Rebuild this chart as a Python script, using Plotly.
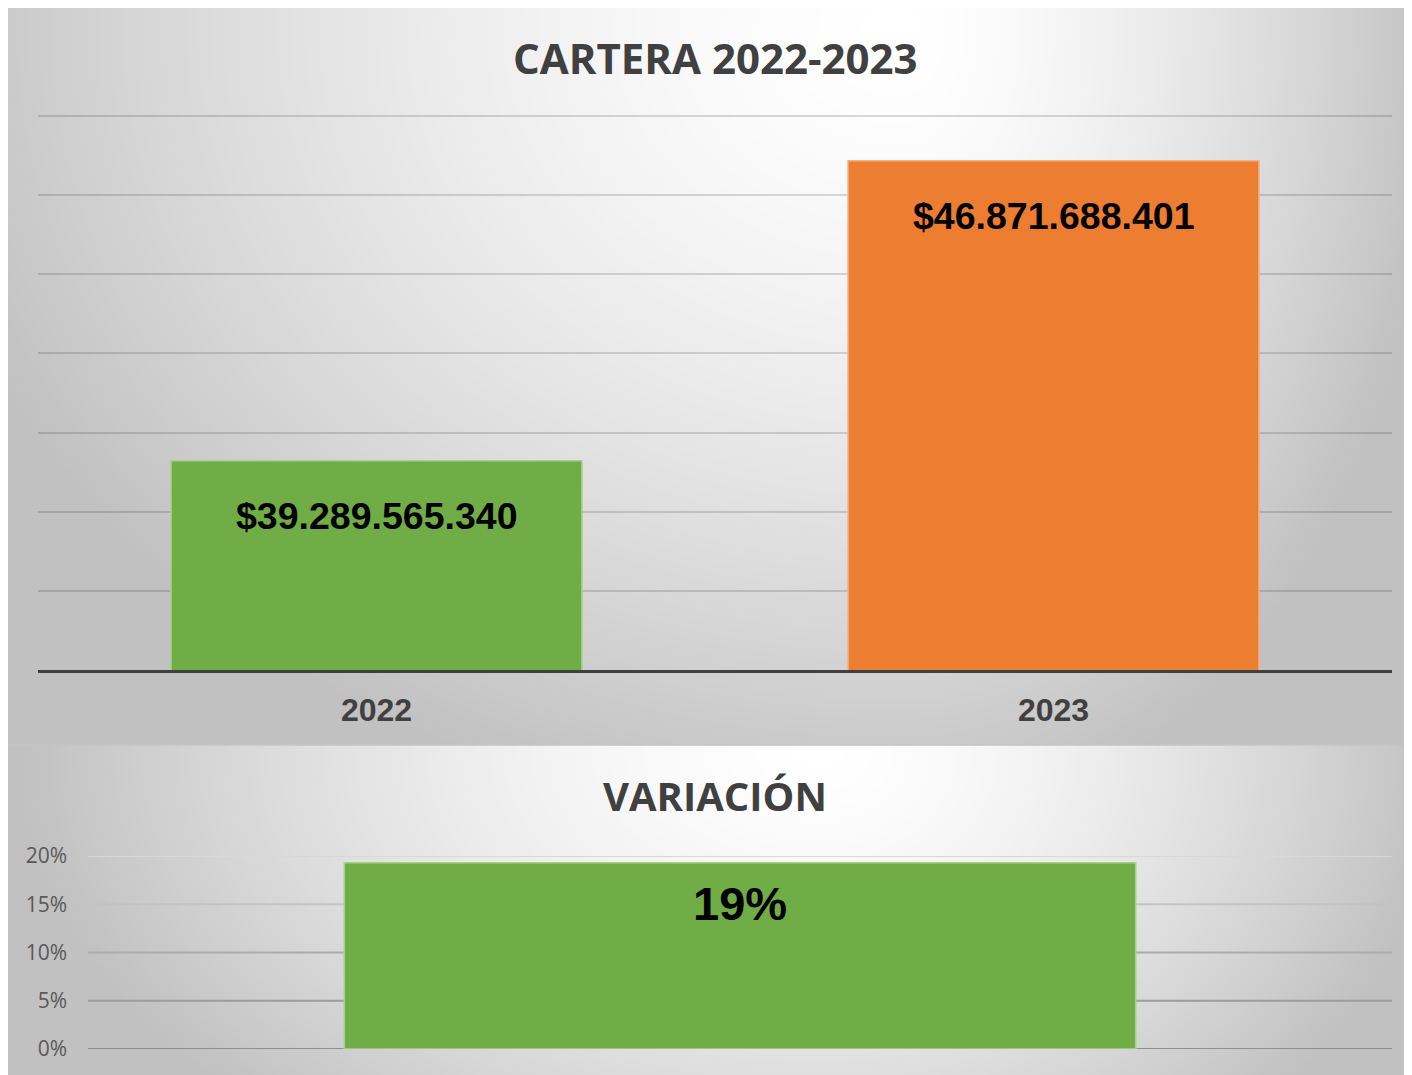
import numpy as np
import plotly.graph_objects as go

# page has an 8px body margin; figure coordinates = reference pixels - 8
OFF = 8
W, H = 1412 - OFF, 1075 - OFF

# ---- data ----
years = ["2022", "2023"]
cartera = [39289565340, 46871688401]
cartera_labels = ["$39.289.565.340", "$46.871.688.401"]
cartera_colors = ["#70AD47", "#ED7D31"]
cartera_edge = ["#A9D18E", "#F4B183"]
cartera_range = [34e9, 48.05e9]
cartera_dtick = 2e9

var_cat = ["Variación"]
var_values = [0.193]
var_labels = ["19%"]
pct_ticks = [0.0, 0.05, 0.10, 0.15, 0.20]
pct_labels = ["0%", "5%", "10%", "15%", "20%"]
pct_grid_colors = ["#8f8f8f", "#9c9c9c", "#ababab", "#c3c3c3", "#d8d8d8"]


def fx(x):
    return (x - OFF) / W


def fy(y):
    return 1 - (y - OFF) / H


def gradient(x0, x1, y0, y1, cx, cy, rxl, rxr, ry, nx, ny):
    xs = np.linspace(x0, x1, nx)
    ys = np.linspace(y0, y1, ny)
    X, Y = np.meshgrid(xs, ys)
    rx = np.where(X < cx, rxl, rxr)
    d = np.sqrt(((X - cx) / rx) ** 2 + ((Y - cy) / ry) ** 2)
    v = 255 - 62 * np.clip(d, 0, 1) ** 1.5
    return xs, ys, v


gray = [[0, "rgb(0,0,0)"], [1, "rgb(255,255,255)"]]
fig = go.Figure()

# background panels (decoration), in reference pixel coordinates
xs, ys, v = gradient(8, 1412, 5, 745, 900, 30, 1000, 540, 800, 90, 50)
fig.add_trace(go.Heatmap(x=xs, y=ys, z=v, colorscale=gray, zmin=0, zmax=255,
                         zsmooth="best", showscale=False, hoverinfo="skip",
                         xaxis="x", yaxis="y"))
xs2, ys2, v2 = gradient(8, 1412, 745, 1075, 820, 750, 800, 620, 500, 90, 24)
fig.add_trace(go.Heatmap(x=xs2, y=ys2, z=v2, colorscale=gray, zmin=0, zmax=255,
                         zsmooth="best", showscale=False, hoverinfo="skip",
                         xaxis="x2", yaxis="y2"))

# top chart
fig.add_trace(go.Bar(x=years, y=cartera, xaxis="x3", yaxis="y3",
                     marker=dict(color=cartera_colors,
                                 line=dict(color=cartera_edge, width=1.5)),
                     hoverinfo="skip"))
# bottom chart
fig.add_trace(go.Bar(x=var_cat, y=var_values, xaxis="x4", yaxis="y4",
                     marker=dict(color="#70AD47", line=dict(color="#A9D18E", width=1.5)),
                     hoverinfo="skip"))

annotations = []
for i, (val, lab) in enumerate(zip(cartera, cartera_labels)):
    annotations.append(dict(x=i, y=val, xref="x3", yref="y3", text=lab,
                            showarrow=False, yanchor="middle", yshift=-55,
                            font=dict(family="Liberation Sans, Arial", size=37.5,
                                      color="#000000", weight="bold")))
for i, (val, lab) in enumerate(zip(var_values, var_labels)):
    annotations.append(dict(x=i, y=val, xref="x4", yref="y4", text=lab,
                            showarrow=False, yanchor="middle", yshift=-41,
                            font=dict(family="Liberation Sans, Arial", size=47,
                                      color="#000000", weight="bold")))
annotations.append(dict(x=fx(715), y=fy(57), xref="paper", yref="paper",
                        text="CARTERA 2022-2023", showarrow=False,
                        xanchor="center", yanchor="middle",
                        font=dict(family="Open Sans", size=42, color="#404040",
                                  weight="bold")))
annotations.append(dict(x=fx(715), y=fy(795), xref="paper", yref="paper",
                        text="VARIACIÓN", showarrow=False,
                        xanchor="center", yanchor="middle",
                        font=dict(family="Open Sans", size=40, color="#404040",
                                  weight="bold")))

shapes = []
for t, col in zip(pct_ticks, pct_grid_colors):
    shapes.append(dict(type="line", xref="x4", yref="y4", x0=-0.5, x1=0.5,
                       y0=t, y1=t, line=dict(color=col, width=2), layer="below"))
shapes += [
    dict(type="line", xref="paper", yref="paper", x0=0, x1=1, y0=fy(745),
         y1=fy(745), line=dict(color="#c4c4c4", width=1.5), layer="above"),
]

hidden = dict(visible=False, fixedrange=True, automargin=False)
fig.update_layout(
    template="none",
    width=W, height=H, autosize=False,
    margin=dict(l=0, r=0, t=0, b=0, pad=0, autoexpand=False),
    paper_bgcolor="#ffffff", plot_bgcolor="rgba(0,0,0,0)",
    showlegend=False, bargap=0.393,
    xaxis=dict(domain=[0, 1], range=[8, 1412], anchor="y", **hidden),
    yaxis=dict(domain=[fy(745), 1], range=[745, 8], anchor="x", **hidden),
    xaxis2=dict(domain=[0, 1], range=[8, 1412], anchor="y2", **hidden),
    yaxis2=dict(domain=[0, fy(745)], range=[1075, 745], anchor="x2", **hidden),
    xaxis3=dict(domain=[fx(38), fx(1392)], anchor="y3", type="category",
                range=[-0.5, 1.5], automargin=False,
                showline=True, linecolor="#404040", linewidth=3,
                showgrid=False, zeroline=False, ticks="", ticklabelstandoff=10,
                tickfont=dict(family="Liberation Sans, Arial", size=32,
                              color="#404040", weight="bold")),
    yaxis3=dict(domain=[fy(670), fy(114)], anchor="x3", range=cartera_range,
                dtick=cartera_dtick, tick0=0, showticklabels=False, automargin=False,
                showgrid=True, gridcolor="rgba(0,0,0,0.14)", gridwidth=2,
                zeroline=False, showline=False, ticks=""),
    xaxis4=dict(domain=[fx(88), fx(1392)], anchor="y4", type="category",
                range=[-0.5, 0.5], showticklabels=False, showgrid=False,
                zeroline=False, showline=False, ticks="", automargin=False),
    yaxis4=dict(domain=[fy(1049), fy(856)], anchor="x4", range=[0, 0.2],
                tickvals=pct_ticks, ticktext=pct_labels, showgrid=False,
                zeroline=False, showline=False, ticks="", ticklabelstandoff=20,
                automargin=False,
                tickfont=dict(family="Open Sans", size=21, color="#595959")),
    annotations=annotations, shapes=shapes,
)

fig.write_html("out.html")
